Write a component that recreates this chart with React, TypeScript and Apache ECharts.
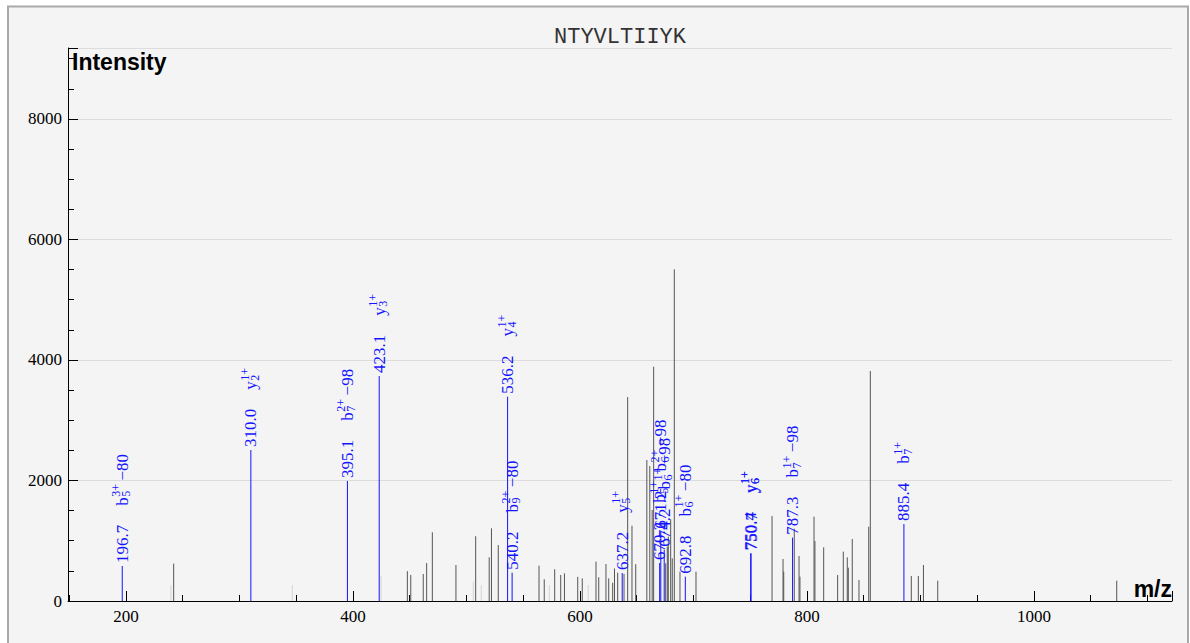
import React, { useEffect, useRef } from "react";
import * as echarts from "echarts";

// ---------- data ----------
const peptide = "NTYVLTIIYK";

// unannotated peaks (m/z, intensity)
const peakMz = [
  242.0, 447.9, 450.9, 461.9, 464.9, 469.9, 490.7, 508.1, 520.0, 522.0, 528.0,
  563.9, 568.5, 577.7, 583.0, 586.3, 598.0, 602.0, 614.1, 616.5, 622.9, 625.3,
  628.8, 630.4, 633.2, 638.8, 642.0, 645.8, 649.1, 658.9, 661.5, 663.6, 664.9,
  675.5, 676.9, 677.8, 679.9, 681.3, 683.1, 688.1, 702.2, 769.2, 778.9, 779.5,
  788.8, 793.0, 793.8, 806.2, 807.0, 814.7, 827.0, 832.0, 835.5, 836.4, 839.9,
  845.8, 854.4, 855.8, 891.9, 898.1, 902.6, 915.2, 1072.9,
];
const peakIntensity = [
  620, 495, 431, 448, 630, 1140, 597, 1075, 725, 1206, 929,
  586, 360, 526, 431, 459, 400, 376, 653, 393, 614, 376,
  304, 540, 470, 450, 3385, 1250, 612, 2340, 2240, 1510, 3889,
  625, 902, 1068, 1356, 708, 5505, 487, 487, 1411, 697, 487,
  1200, 747, 404, 1400, 996, 891, 431, 819, 725, 553, 1029,
  349, 1233, 3817, 415, 415, 597, 337, 337,
];

// faint (low-weight) peaks
const faintMz = [239.6, 346.5, 424.7, 506.0, 513.0, 573.0, 607.2];
const faintIntensity = [265, 265, 415, 321, 265, 265, 265];

// annotated fragment ions
const ionMz = [196.7, 310.0, 395.1, 423.1, 536.2, 540.2, 637.2, 670.2, 671.2, 674.2, 692.8, 750.4, 750.7, 787.3, 885.4];
const ionIntensity = [581, 2506, 1992, 3734, 3391, 470, 465, 630, 1150, 850, 404, 791, 791, 1051, 1278];
const ionType = ["b", "y", "b", "y", "y", "b", "y", "b", "b", "b", "b", "y", "y", "b", "b"];
const ionNumber = ["5", "2", "7", "3", "4", "9", "5", "5", "6", "6", "6", "6", "6", "7", "7"];
const ionCharge = ["3+", "1+", "2+", "1+", "1+", "2+", "1+", "1+", "2+", "1+", "1+", "1+", "1+", "1+", "1+"];
const ionLoss = ["\u221280", "", "\u221298", "", "", "\u221280", "", "", "\u221298", "\u221298", "\u221280", "", "", "\u221298", ""];

// ---------- helpers ----------
const SERIF = '"Liberation Serif", "Times New Roman", serif';
const BLUE = "#1414ff";
let measureCtx: CanvasRenderingContext2D | null = null;
function textWidth(t: string, size: number): number {
  if (!measureCtx) {
    const c = document.createElement("canvas");
    measureCtx = c.getContext("2d");
  }
  if (!measureCtx) return t.length * size * 0.5;
  measureCtx.font = `${size}px ${SERIF}`;
  return measureCtx.measureText(t).width;
}

function stickSeries(name: string, mz: number[], inten: number[], color: string) {
  return {
    type: "custom",
    name,
    silent: true,
    data: mz.map((m, i) => [m, inten[i]]),
    encode: { x: 0, y: 1 },
    renderItem: (_params: any, api: any) => {
      const p0 = api.coord([api.value(0), 0]);
      const p1 = api.coord([api.value(0), api.value(1)]);
      return {
        type: "line",
        shape: { x1: p0[0], y1: p0[1], x2: p1[0], y2: p1[1] },
        style: { stroke: color, lineWidth: 1 },
      };
    },
  };
}

export default function App() {
  const ref = useRef<HTMLDivElement>(null);

  useEffect(() => {
    if (!ref.current) return;
    const chart = echarts.init(ref.current, null, { renderer: "svg" });

    const annotated = {
      type: "custom",
      name: "ions",
      silent: true,
      data: ionMz.map((m, i) => [m, ionIntensity[i]]),
      encode: { x: 0, y: 1 },
      renderItem: (params: any, api: any) => {
        const i = params.dataIndex;
        const top = api.coord([api.value(0), api.value(1)]);
        const base = api.coord([api.value(0), 0]);
        const valueText = ionMz[i].toFixed(1);
        const vw = textWidth(valueText, 17);
        const s = 3 + vw + 19;
        const bw = textWidth(ionType[i], 17);
        const supW = Math.max(textWidth(ionCharge[i], 12), textWidth(ionNumber[i], 12));
        const f17 = `17px ${SERIF}`;
        const f12 = `12px ${SERIF}`;
        const children: any[] = [
          { type: "text", x: 3, y: 0, style: { text: valueText, font: f17, fill: BLUE, textAlign: "left", textVerticalAlign: "middle" } },
          { type: "text", x: s, y: 0, style: { text: ionType[i], font: f17, fill: BLUE, textAlign: "left", textVerticalAlign: "middle" } },
          { type: "text", x: s + bw + 0.5, y: -6, style: { text: ionCharge[i], font: f12, fill: BLUE, textAlign: "left", textVerticalAlign: "middle" } },
          { type: "text", x: s + bw + 0.5, y: 4, style: { text: ionNumber[i], font: f12, fill: BLUE, textAlign: "left", textVerticalAlign: "middle" } },
        ];
        if (ionLoss[i]) {
          children.push({ type: "text", x: s + bw + supW + 4, y: 0, style: { text: ionLoss[i], font: f17, fill: BLUE, textAlign: "left", textVerticalAlign: "middle" } });
        }
        return {
          type: "group",
          children: [
            { type: "line", shape: { x1: base[0], y1: base[1], x2: top[0], y2: top[1] }, style: { stroke: BLUE, lineWidth: 1 } },
            { type: "group", x: top[0], y: top[1], rotation: Math.PI / 2, children },
          ],
        };
      },
    };

    chart.setOption({
      animation: false,
      backgroundColor: "#ffffff",
      graphic: [
        { type: "rect", z: -100, shape: { x: 8, y: 6.5, width: 1180, height: 660 }, style: { fill: "#f4f4f4", stroke: "#a9a9a9", lineWidth: 2 } },
        { type: "text", x: 620, y: 37, style: { text: peptide, font: '22px "Liberation Mono", monospace', fill: "#333", textAlign: "center", textVerticalAlign: "middle" } },
        { type: "text", x: 72, y: 62, style: { text: "Intensity", font: 'bold 23px "Liberation Sans", Arial, sans-serif', fill: "#000", textAlign: "left", textVerticalAlign: "middle" } },
        { type: "text", x: 1172, y: 589, style: { text: "m/z", font: 'bold 23px "Liberation Sans", Arial, sans-serif', fill: "#000", textAlign: "right", textVerticalAlign: "middle" } },
      ],
      grid: { left: 68, right: 18, top: 48, bottom: 42, containLabel: false },
      xAxis: {
        type: "value",
        min: 148.9,
        max: 1121.6,
        splitNumber: 5,
        axisLine: { show: true, onZero: false, lineStyle: { color: "#000", width: 1 } },
        axisTick: { show: true, inside: true, length: 10, lineStyle: { color: "#000" } },
        minorTick: { show: true, splitNumber: 4, length: 6, lineStyle: { color: "#000" } },
        axisLabel: {
          show: true, showMinLabel: false, showMaxLabel: false, margin: 7,
          fontFamily: SERIF, fontSize: 17, color: "#000",
          formatter: (v: number) => String(Math.round(v)),
        },
        splitLine: { show: false },
      },
      yAxis: {
        type: "value",
        min: 0,
        max: 9178,
        splitNumber: 5,
        axisLine: { show: true, lineStyle: { color: "#000", width: 1 } },
        axisTick: { show: true, inside: true, length: 10, lineStyle: { color: "#000" } },
        minorTick: { show: true, splitNumber: 4, length: 6, lineStyle: { color: "#000" } },
        axisLabel: {
          show: true, showMaxLabel: false, margin: 6,
          fontFamily: SERIF, fontSize: 17, color: "#000",
          formatter: (v: number) => String(Math.round(v)),
        },
        splitLine: { show: true, lineStyle: { color: "#dcdcdc", width: 1 } },
      },
      series: [
        stickSeries("faint", faintMz, faintIntensity, "#d4d4d4"),
        stickSeries("peaks", peakMz, peakIntensity, "#555555"),
        annotated,
      ],
    });

    return () => chart.dispose();
  }, []);

  return (
    <div style={{ position: "fixed", left: 0, top: 0, width: 1190, height: 643, background: "#fff" }}>
      <div ref={ref} style={{ width: 1190, height: 643 }} />
    </div>
  );
}
